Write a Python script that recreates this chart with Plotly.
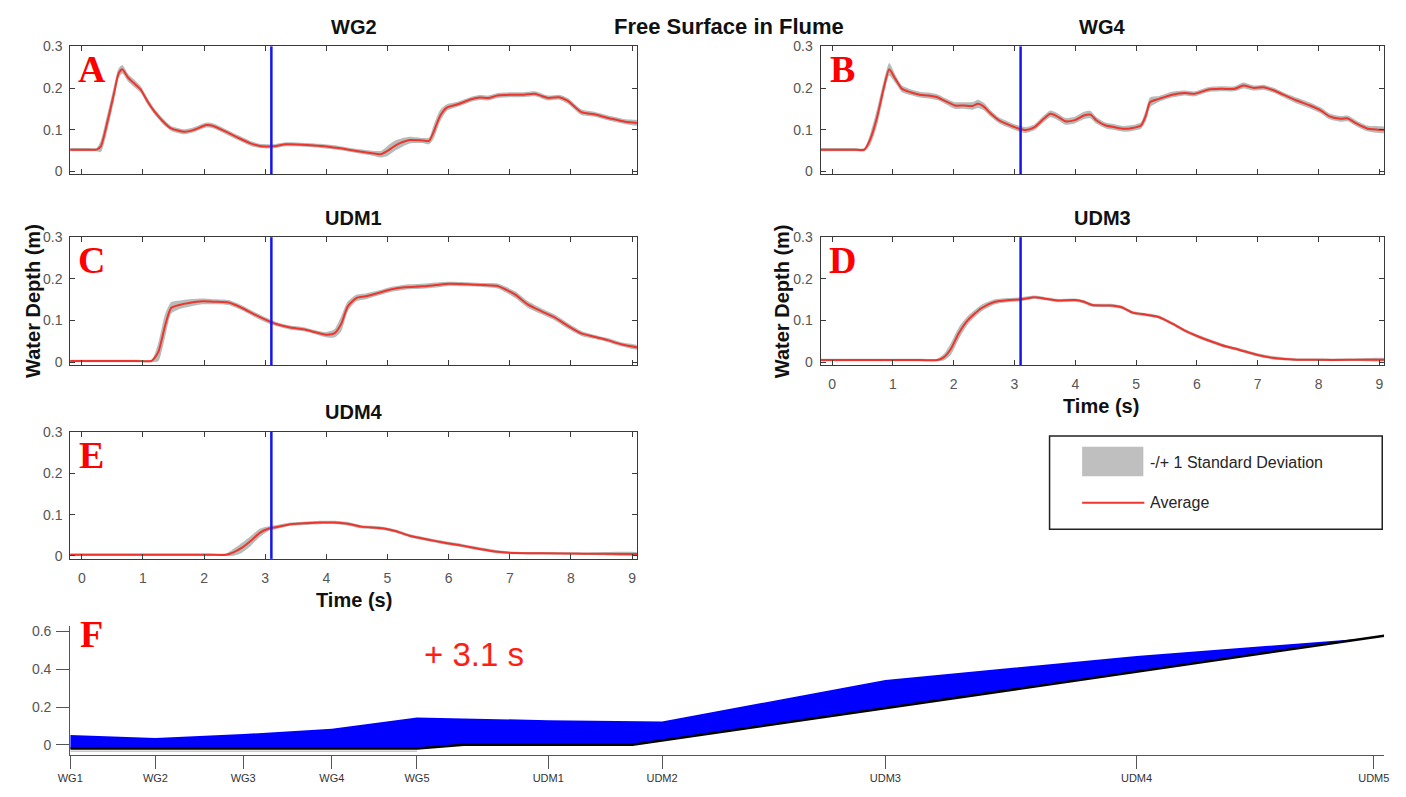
import numpy as np
import plotly.graph_objects as go

W, H = 1406, 797

# ---------------- data ----------------
marker_time = 3.1  # s, time of the flume snapshot

# WG2 (panel A)
wg2_t = [-0.2, 0.1, 0.24, 0.31, 0.42, 0.53, 0.60, 0.66, 0.76, 0.85, 0.96,
         1.07, 1.18, 1.32, 1.46, 1.68, 1.82, 2.04, 2.15, 2.33, 2.55,
         2.76, 2.91, 3.12, 3.34, 3.91, 4.2, 4.49, 4.78, 4.89, 5.0,
         5.14, 5.36, 5.57, 5.68, 5.75, 5.86, 5.97, 6.15, 6.37, 6.51,
         6.65, 6.8, 7.02, 7.23, 7.41, 7.52, 7.63, 7.81, 7.95, 8.17,
         8.38, 8.67, 8.89, 9.1]
wg2_mean = [0.052, 0.052, 0.052, 0.06, 0.12, 0.19, 0.235, 0.245, 0.224, 0.212, 0.197,
            0.169, 0.145, 0.121, 0.103, 0.095, 0.099, 0.111, 0.109, 0.097, 0.081,
            0.067, 0.061, 0.060, 0.065, 0.061, 0.056, 0.049, 0.043, 0.041, 0.049,
            0.063, 0.075, 0.074, 0.073, 0.093, 0.133, 0.153, 0.161, 0.173, 0.177,
            0.176, 0.182, 0.184, 0.184, 0.186, 0.181, 0.176, 0.178, 0.169, 0.142,
            0.137, 0.126, 0.119, 0.116]
wg2_std = [0.004, 0.004, 0.004, 0.014, 0.020, 0.018, 0.012, 0.010, 0.009, 0.009, 0.008,
           0.008, 0.007, 0.007, 0.006, 0.006, 0.006, 0.006, 0.006, 0.006, 0.006,
           0.006, 0.005, 0.005, 0.005, 0.005, 0.005, 0.005, 0.006, 0.008, 0.012,
           0.012, 0.008, 0.006, 0.008, 0.016, 0.014, 0.008, 0.006, 0.006, 0.006,
           0.006, 0.006, 0.006, 0.006, 0.006, 0.006, 0.006, 0.006, 0.007, 0.007,
           0.006, 0.006, 0.006, 0.006]

# WG4 (panel B)
wg4_t = [-0.2, 0.35, 0.53, 0.63, 0.74, 0.85, 0.94, 1.04, 1.15, 1.29, 1.44,
         1.58, 1.73, 1.87, 2.02, 2.17, 2.31, 2.40, 2.49, 2.60, 2.75,
         2.90, 3.04, 3.19, 3.33, 3.48, 3.59, 3.70, 3.84, 3.99, 4.14,
         4.25, 4.35, 4.50, 4.65, 4.79, 4.94, 5.08, 5.16, 5.23, 5.38,
         5.59, 5.81, 5.96, 6.18, 6.40, 6.62, 6.76, 6.94, 7.09, 7.27,
         7.42, 7.64, 7.86, 8.04, 8.18, 8.37, 8.48, 8.62, 8.80, 9.1]
wg4_mean = [0.052, 0.052, 0.052, 0.078, 0.13, 0.20, 0.245, 0.222, 0.198, 0.19, 0.184,
            0.182, 0.178, 0.168, 0.158, 0.158, 0.157, 0.162, 0.156, 0.14, 0.122,
            0.112, 0.104, 0.099, 0.106, 0.126, 0.138, 0.132, 0.12, 0.123, 0.134,
            0.136, 0.122, 0.11, 0.106, 0.102, 0.104, 0.11, 0.134, 0.166, 0.174,
            0.184, 0.188, 0.186, 0.196, 0.198, 0.198, 0.206, 0.20, 0.202, 0.194,
            0.184, 0.17, 0.158, 0.146, 0.132, 0.126, 0.127, 0.115, 0.103, 0.099]
wg4_std = [0.004, 0.004, 0.004, 0.014, 0.020, 0.018, 0.015, 0.010, 0.008, 0.007, 0.007,
           0.007, 0.007, 0.007, 0.008, 0.008, 0.009, 0.010, 0.009, 0.008, 0.007,
           0.007, 0.007, 0.007, 0.007, 0.008, 0.008, 0.008, 0.008, 0.008, 0.009,
           0.009, 0.008, 0.007, 0.007, 0.007, 0.007, 0.008, 0.014, 0.012, 0.007,
           0.007, 0.006, 0.006, 0.006, 0.006, 0.006, 0.007, 0.006, 0.006, 0.006,
           0.006, 0.007, 0.007, 0.007, 0.007, 0.007, 0.007, 0.007, 0.007, 0.007]

# UDM1 (panel C)
udm1_t = [-0.2, 0.9, 1.14, 1.25, 1.36, 1.46, 1.61, 1.75, 1.97, 2.18, 2.40,
          2.62, 2.83, 3.05, 3.19, 3.41, 3.63, 3.84, 3.99, 4.13, 4.24,
          4.35, 4.49, 4.64, 4.85, 5.07, 5.28, 5.57, 5.79, 6.01, 6.29,
          6.58, 6.80, 6.94, 7.09, 7.30, 7.52, 7.74, 7.95, 8.17, 8.38,
          8.60, 8.82, 9.1]
udm1_mean = [0.003, 0.003, 0.003, 0.024, 0.087, 0.13, 0.138, 0.142, 0.146, 0.145, 0.143,
             0.13, 0.114, 0.099, 0.091, 0.083, 0.079, 0.071, 0.066, 0.069, 0.091,
             0.134, 0.154, 0.158, 0.166, 0.175, 0.180, 0.182, 0.185, 0.188, 0.187,
             0.185, 0.183, 0.174, 0.162, 0.138, 0.122, 0.107, 0.087, 0.069, 0.061,
             0.053, 0.043, 0.035]
udm1_std = [0.003, 0.003, 0.003, 0.022, 0.028, 0.014, 0.010, 0.009, 0.007, 0.006, 0.006,
            0.006, 0.006, 0.006, 0.005, 0.005, 0.005, 0.005, 0.006, 0.010, 0.018,
            0.012, 0.008, 0.007, 0.006, 0.006, 0.006, 0.006, 0.006, 0.005, 0.005,
            0.005, 0.006, 0.007, 0.008, 0.008, 0.007, 0.007, 0.007, 0.006, 0.005,
            0.005, 0.005, 0.005]

# UDM3 (panel D)
udm3_t = [-0.2, 1.45, 1.73, 1.84, 1.95, 2.09, 2.24, 2.46, 2.68, 2.90, 3.11,
          3.33, 3.48, 3.70, 3.99, 4.14, 4.28, 4.57, 4.76, 4.94, 5.16,
          5.38, 5.59, 5.81, 6.03, 6.25, 6.47, 6.69, 6.98, 7.27, 7.64,
          8.0, 8.51, 9.1]
udm3_mean = [0.005, 0.005, 0.005, 0.012, 0.031, 0.071, 0.102, 0.13, 0.145, 0.149, 0.151,
             0.156, 0.153, 0.148, 0.149, 0.145, 0.137, 0.136, 0.132, 0.119, 0.114,
             0.108, 0.093, 0.075, 0.061, 0.049, 0.038, 0.030, 0.018, 0.010, 0.006,
             0.0055, 0.0055, 0.006]
udm3_std = [0.003, 0.003, 0.003, 0.008, 0.014, 0.014, 0.010, 0.008, 0.006, 0.005, 0.005,
            0.004, 0.004, 0.004, 0.004, 0.004, 0.004, 0.004, 0.004, 0.004, 0.004,
            0.004, 0.004, 0.004, 0.004, 0.004, 0.004, 0.004, 0.004, 0.004, 0.003,
            0.003, 0.003, 0.003]

# UDM4 (panel E)
udm4_t = [-0.2, 2.05, 2.36, 2.47, 2.62, 2.76, 2.91, 3.05, 3.19, 3.41, 3.63,
          3.91, 4.13, 4.35, 4.56, 4.92, 5.14, 5.36, 5.65, 5.93, 6.22,
          6.51, 6.80, 7.09, 7.52, 8.24, 9.1]
udm4_mean = [0.003, 0.003, 0.003, 0.008, 0.02, 0.036, 0.056, 0.066, 0.07, 0.077, 0.079,
             0.081, 0.081, 0.078, 0.071, 0.067, 0.06, 0.049, 0.04, 0.032, 0.025,
             0.017, 0.01, 0.007, 0.0065, 0.0055, 0.005]
udm4_std = [0.003, 0.003, 0.003, 0.008, 0.012, 0.012, 0.010, 0.006, 0.005, 0.004, 0.004,
            0.004, 0.004, 0.004, 0.004, 0.004, 0.004, 0.004, 0.004, 0.004, 0.004,
            0.004, 0.004, 0.003, 0.003, 0.003, 0.003]

# Flume profile at marker_time (panel F)
station_names = ['WG1', 'WG2', 'WG3', 'WG4', 'WG5', 'UDM1', 'UDM2', 'UDM3', 'UDM4', 'UDM5']
station_x = [0.0, 0.98, 1.99, 3.01, 3.99, 5.5, 6.81, 9.38, 12.27, 15.0]
surface_y = [0.052, 0.036, 0.057, 0.085, 0.145, 0.13, 0.123, 0.343, 0.47, 0.567]
bed_x = [0.0, 3.99, 4.53, 6.47, 15.12]
bed_y = [-0.02, -0.02, 0.0, 0.0, 0.577]
floor_x = [0.0, 3.99]
floor_y = [-0.034, -0.034]

for a, b in [(wg2_t, wg2_mean), (wg2_t, wg2_std), (wg4_t, wg4_mean), (wg4_t, wg4_std),
             (udm1_t, udm1_mean), (udm1_t, udm1_std), (udm3_t, udm3_mean), (udm3_t, udm3_std),
             (udm4_t, udm4_mean), (udm4_t, udm4_std), (station_x, surface_y)]:
    assert len(a) == len(b), (len(a), len(b))

# ---------------- styling helpers ----------------
def fx(px):
    return px / W

def fy(py):
    return 1 - py / H

RED = 'rgb(238,52,44)'
GRAY = 'rgb(182,189,185)'
BLUE_LINE = 'rgb(22,22,235)'
AX = '#3a3a3a'
TICKFONT = dict(family='Liberation Sans, Arial, sans-serif', size=14, color='#555555')
BOLD = 'Liberation Sans, Arial, sans-serif'
SERIF = 'Liberation Serif, Times New Roman, serif'

panels = [
    dict(letter='A', title='WG2', t=wg2_t, m=wg2_mean, s=wg2_std, xp=(58, 632), yp=(39, 169), xl=False),
    dict(letter='B', title='WG4', t=wg4_t, m=wg4_mean, s=wg4_std, xp=(818, 1389), yp=(39, 169), xl=False),
    dict(letter='C', title='UDM1', t=udm1_t, m=udm1_mean, s=udm1_std, xp=(58, 632), yp=(233, 363), xl=False),
    dict(letter='D', title='UDM3', t=udm3_t, m=udm3_mean, s=udm3_std, xp=(818, 1389), yp=(233, 363), xl=True),
    dict(letter='E', title='UDM4', t=udm4_t, m=udm4_mean, s=udm4_std, xp=(58, 632), yp=(431, 560), xl=True),
]

fig = go.Figure()
layout_axes = {}
shapes = []
annotations = []

for i, p in enumerate(panels, start=1):
    sfx = '' if i == 1 else str(i)
    xa, ya = 'x' + sfx, 'y' + sfx
    t = np.array(p['t'])
    m = np.array(p['m'])
    s = np.array(p['s'])
    upper = m + s
    lower = m - s
    fig.add_trace(go.Scatter(
        x=np.concatenate([t, t[::-1]]), y=np.concatenate([upper, lower[::-1]]),
        fill='toself', fillcolor=GRAY, line=dict(width=0, shape='spline', smoothing=0.6),
        mode='lines', hoverinfo='skip', showlegend=False, xaxis=xa, yaxis=ya))
    fig.add_trace(go.Scatter(
        x=t, y=m, mode='lines', line=dict(color=RED, width=2, shape='spline', smoothing=0.6),
        showlegend=False, xaxis=xa, yaxis=ya, name='Average'))
    layout_axes['xaxis' + sfx] = dict(
        domain=[fx(p['xp'][0]), fx(p['xp'][1])], anchor=ya, range=[-0.19, 9.08],
        tickvals=list(range(10)), ticktext=[str(k) for k in range(10)],
        showticklabels=p['xl'], ticks='inside', ticklen=5, tickcolor=AX,
        showline=True, linecolor=AX, linewidth=1, mirror='ticks',
        showgrid=False, zeroline=False, tickfont=TICKFONT, ticklabelstandoff=6)
    layout_axes['yaxis' + sfx] = dict(
        domain=[fy(p['yp'][1]), fy(p['yp'][0])], anchor=xa, range=[-0.007, 0.3],
        tickvals=[0, 0.1, 0.2, 0.3], ticktext=['0', '0.1', '0.2', '0.3'],
        ticks='inside', ticklen=5, tickcolor=AX,
        showline=True, linecolor=AX, linewidth=1, mirror='ticks',
        showgrid=False, zeroline=False, tickfont=TICKFONT, ticklabelstandoff=4)
    shapes.append(dict(type='line', xref=xa, yref=ya + ' domain', x0=marker_time, x1=marker_time,
                       y0=0, y1=1, line=dict(color=BLUE_LINE, width=2.5)))
    cx = (p['xp'][0] + p['xp'][1]) / 2
    annotations.append(dict(text=p['title'], x=fx(cx), y=fy(p['yp'][0] - 20), xref='paper', yref='paper',
                            showarrow=False, xanchor='center', yanchor='middle',
                            font=dict(family=BOLD, size=20, color='#111111', weight='bold')))
    annotations.append(dict(text=p['letter'], x=fx(p['xp'][0] + 22), y=fy(p['yp'][0] + 23),
                            xref='paper', yref='paper', showarrow=False,
                            xanchor='center', yanchor='middle',
                            font=dict(family=SERIF, size=38, color='#ff0000', weight='bold')))

# ---- panel F: flume profile ----
sx = np.array(station_x)
sy = np.array(surface_y)
bx = np.array(bed_x)
by = np.array(bed_y)
fig.add_trace(go.Scatter(
    x=np.concatenate([sx, bx[::-1]]), y=np.concatenate([sy, by[::-1]]),
    fill='toself', fillcolor='rgb(0,0,255)', line=dict(width=0), mode='lines',
    showlegend=False, hoverinfo='skip', xaxis='x6', yaxis='y6'))
fig.add_trace(go.Scatter(x=floor_x, y=floor_y, mode='lines',
                         line=dict(color='rgb(200,200,200)', width=1.5),
                         showlegend=False, xaxis='x6', yaxis='y6'))
fig.add_trace(go.Scatter(x=bed_x, y=bed_y, mode='lines', line=dict(color='black', width=2.5),
                         showlegend=False, xaxis='x6', yaxis='y6'))
layout_axes['xaxis6'] = dict(
    domain=[fx(58), fx(1389)], anchor='y6', range=[0, 15.12],
    tickvals=station_x, ticktext=station_names,
    ticks='outside', ticklen=13, tickcolor='#555555', showline=True, linecolor='#555555',
    linewidth=1.2, showgrid=False, zeroline=False,
    tickfont=dict(family='Liberation Sans, Arial, sans-serif', size=11, color='#333333'))
layout_axes['yaxis6'] = dict(
    domain=[fy(759), fy(628)], anchor='x6', range=[-0.052, 0.63],
    tickvals=[0, 0.2, 0.4, 0.6], ticktext=['0', '0.2', '0.4', '0.6'],
    ticks='outside', ticklen=13, tickcolor='#555555', showline=True, linecolor='#555555',
    linewidth=1.2, showgrid=False, zeroline=False, tickfont=TICKFONT, ticklabelstandoff=2)
annotations.append(dict(text='F', x=fx(80), y=fy(636), xref='paper', yref='paper', showarrow=False,
                        xanchor='center', yanchor='middle',
                        font=dict(family=SERIF, size=38, color='#ff0000', weight='bold')))
annotations.append(dict(text=f'+ {marker_time} s', x=fx(467), y=fy(657), xref='paper', yref='paper',
                        showarrow=False, xanchor='center', yanchor='middle',
                        font=dict(family='Liberation Sans, Arial, sans-serif', size=33, color='rgb(255,30,20)')))

# ---- overall title and axis titles ----
annotations.append(dict(text='Free Surface in Flume', x=fx(725), y=fy(19), xref='paper', yref='paper',
                        showarrow=False, xanchor='center', yanchor='middle',
                        font=dict(family=BOLD, size=22, color='#111111', weight='bold')))
for (xx, yy) in [(20, 298), (779, 298)]:
    annotations.append(dict(text='Water Depth (m)', x=fx(xx), y=fy(yy), xref='paper', yref='paper',
                            showarrow=False, xanchor='center', yanchor='middle', textangle=-90,
                            font=dict(family=BOLD, size=20, color='#111111', weight='bold')))
for (xx, yy) in [(1102, 405), (345, 602)]:
    annotations.append(dict(text='Time (s)', x=fx(xx), y=fy(yy), xref='paper', yref='paper',
                            showarrow=False, xanchor='center', yanchor='middle',
                            font=dict(family=BOLD, size=20, color='#111111', weight='bold')))

# ---- legend (drawn box) ----
shapes.append(dict(type='rect', xref='paper', yref='paper', x0=fx(1050), x1=fx(1387), y0=fy(530), y1=fy(435),
                   line=dict(color='#222222', width=1.5), fillcolor='white'))
shapes.append(dict(type='rect', xref='paper', yref='paper', x0=fx(1083), x1=fx(1145), y0=fy(476), y1=fy(446),
                   line=dict(width=0), fillcolor='rgb(191,191,191)'))
shapes.append(dict(type='line', xref='paper', yref='paper', x0=fx(1083), x1=fx(1146), y0=fy(503), y1=fy(503),
                   line=dict(color=RED, width=2)))
annotations.append(dict(text='-/+ 1 Standard Deviation', x=fx(1150), y=fy(462), xref='paper', yref='paper',
                        showarrow=False, xanchor='left', yanchor='middle',
                        font=dict(family='Liberation Sans, Arial, sans-serif', size=16, color='#262626')))
annotations.append(dict(text='Average', x=fx(1150), y=fy(503), xref='paper', yref='paper',
                        showarrow=False, xanchor='left', yanchor='middle',
                        font=dict(family='Liberation Sans, Arial, sans-serif', size=16, color='#262626')))

fig.update_layout(
    width=W, height=H, margin=dict(l=0, r=0, t=0, b=0),
    paper_bgcolor='white', plot_bgcolor='white', showlegend=False,
    shapes=shapes, annotations=annotations, **layout_axes)

fig.write_html('out.html')
